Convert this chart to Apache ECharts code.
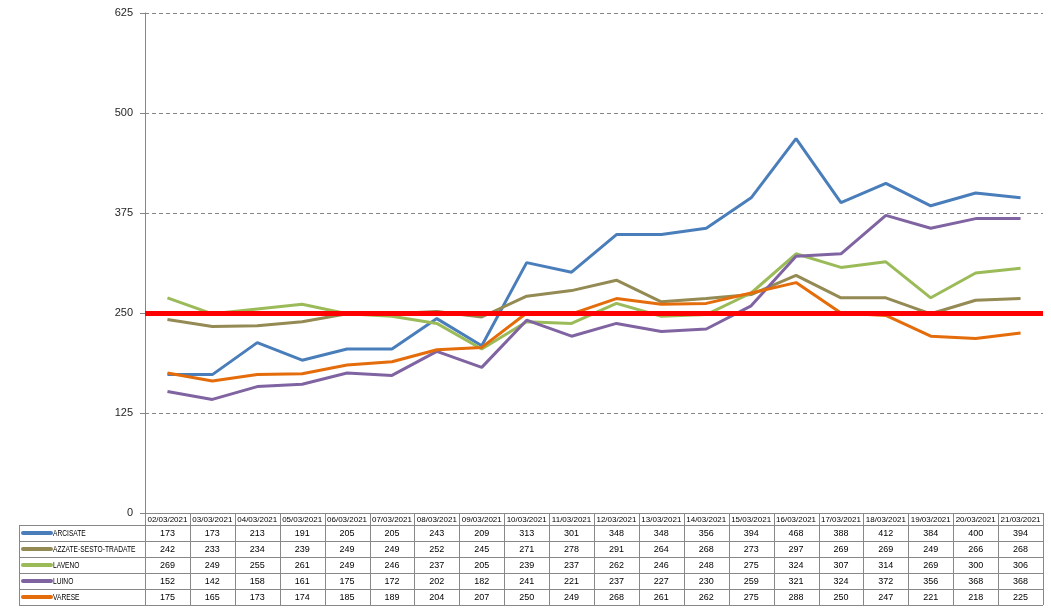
<!DOCTYPE html>
<html>
<head>
<meta charset="utf-8">
<script src="https://cdn.jsdelivr.net/npm/echarts@6/dist/echarts.min.js"></script>
<style>
    html, body { margin: 0; padding: 0; background: #fff; }
    #main { width: 1051px; height: 611px; }
</style>
</head>
<body>
<div id="main"></div>
<script>
/*数据*/
var dates = ['02/03/2021', '03/03/2021', '04/03/2021', '05/03/2021', '06/03/2021', '07/03/2021', '08/03/2021',
    '09/03/2021', '10/03/2021', '11/03/2021', '12/03/2021', '13/03/2021', '14/03/2021', '15/03/2021',
    '16/03/2021', '17/03/2021', '18/03/2021', '19/03/2021', '20/03/2021', '21/03/2021'];
var arcisate = [173, 173, 213, 191, 205, 205, 243, 209, 313, 301, 348, 348, 356, 394, 468, 388, 412, 384, 400, 394];
var azzate = [242, 233, 234, 239, 249, 249, 252, 245, 271, 278, 291, 264, 268, 273, 297, 269, 269, 249, 266, 268];
var laveno = [269, 249, 255, 261, 249, 246, 237, 205, 239, 237, 262, 246, 248, 275, 324, 307, 314, 269, 300, 306];
var luino = [152, 142, 158, 161, 175, 172, 202, 182, 241, 221, 237, 227, 230, 259, 321, 324, 372, 356, 368, 368];
var varese = [175, 165, 173, 174, 185, 189, 204, 207, 250, 249, 268, 261, 262, 275, 288, 250, 247, 221, 218, 225];
var names = ['ARCISATE', 'AZZATE-SESTO-TRADATE', 'LAVENO', 'LUINO', 'VARESE'];
var colors = ['#4a7ebb', '#948a54', '#9bbb59', '#8064a2', '#e46c0a'];
var yTicks = [0, 125, 250, 375, 500, 625];
var soglia = 250;

var allData = [arcisate, azzate, laveno, luino, varese];
var font = 'Liberation Sans';

var box = document.getElementById('main');
var myChart = echarts.init(box);

var series = names.map(function (name, i) {
    return {
        name: name,
        type: 'line',
        data: allData[i],
        symbol: 'none',
        lineStyle: {width: 3, color: colors[i]},
        itemStyle: {color: colors[i]},
        z: 2
    };
});
// linea rossa della soglia, sopra le altre
series.push({
    name: 'soglia',
    type: 'line',
    data: [],
    z: 5,
    markLine: {
        silent: true,
        symbol: 'none',
        label: {show: false},
        lineStyle: {color: '#ff0000', width: 5, type: 'solid'},
        data: [{yAxis: soglia}]
    }
});

var options = {
    animation: false,
    color: colors,
    grid: {left: 145, right: 8, top: 13, bottom: 98},
    xAxis: {
        type: 'category',
        data: dates,
        boundaryGap: true,
        axisLine: {show: true, lineStyle: {color: '#868686'}},
        axisTick: {show: false},
        axisLabel: {show: false}
    },
    yAxis: {
        type: 'value',
        min: yTicks[0],
        max: yTicks[yTicks.length - 1],
        interval: yTicks[1] - yTicks[0],
        axisLine: {show: true, lineStyle: {color: '#868686'}},
        axisTick: {show: true, length: 5, lineStyle: {color: '#868686'}},
        axisLabel: {color: '#262626', fontSize: 11, fontFamily: font, margin: 12},
        splitLine: {show: true, lineStyle: {color: '#868686', type: [4, 3], width: 1}}
    },
    series: series
};
myChart.setOption(options);

/*tabella dati sotto il grafico*/
var buildTable = function () {
    var centers = dates.map(function (d) {
        return myChart.convertToPixel({xAxisIndex: 0}, d);
    });
    var colW = centers[1] - centers[0];
    var left = Math.round(centers[0] - colW / 2);
    var right = Math.round(centers[centers.length - 1] + colW / 2);
    var top = Math.round(myChart.convertToPixel({yAxisIndex: 0}, 0));
    var headH = 12, rowH = 16, tableLeft = 19;
    var bottom = top + headH + rowH * names.length;
    var border = {stroke: '#888888', lineWidth: 1};
    var els = [];

    var hline = function (x1, x2, y) {
        els.push({type: 'line', silent: true, shape: {x1: x1, y1: y + 0.5, x2: x2, y2: y + 0.5}, style: border, z: 10});
    };
    var vline = function (x, y1, y2) {
        els.push({type: 'line', silent: true, shape: {x1: x + 0.5, y1: y1, x2: x + 0.5, y2: y2}, style: border, z: 10});
    };

    hline(left, right, top);
    for (var r = 0; r <= names.length; r++) {
        hline(tableLeft, right, top + headH + r * rowH);
    }
    vline(tableLeft, top + headH, bottom);
    for (var c = 0; c <= dates.length; c++) {
        vline(Math.round(left + c * colW), top, bottom);
    }

    dates.forEach(function (d, i) {
        els.push({
            type: 'text', silent: true, z: 10,
            style: {
                text: d, x: centers[i], y: top + headH / 2 + 0.5,
                align: 'center', verticalAlign: 'middle',
                fontSize: 8, fontFamily: font, fill: '#000'
            }
        });
    });

    names.forEach(function (name, r) {
        var cy = top + headH + r * rowH + rowH / 2;
        els.push({
            type: 'line', silent: true, z: 10,
            shape: {x1: 23, y1: cy, x2: 51, y2: cy},
            style: {stroke: colors[r], lineWidth: 4, lineCap: 'round'}
        });
        // nome stretto come nel font originale
        els.push({
            type: 'text', silent: true, z: 10,
            x: 53, y: cy + 0.5, scaleX: 0.74,
            style: {
                text: name, x: 0, y: 0,
                align: 'left', verticalAlign: 'middle',
                fontSize: 9, fontFamily: font, fill: '#000'
            }
        });
        allData[r].forEach(function (v, i) {
            els.push({
                type: 'text', silent: true, z: 10,
                style: {
                    text: String(v), x: centers[i], y: cy + 0.5,
                    align: 'center', verticalAlign: 'middle',
                    fontSize: 9, fontFamily: font, fill: '#000'
                }
            });
        });
    });
    return els;
};

myChart.setOption({graphic: buildTable()});
</script>
</body>
</html>
